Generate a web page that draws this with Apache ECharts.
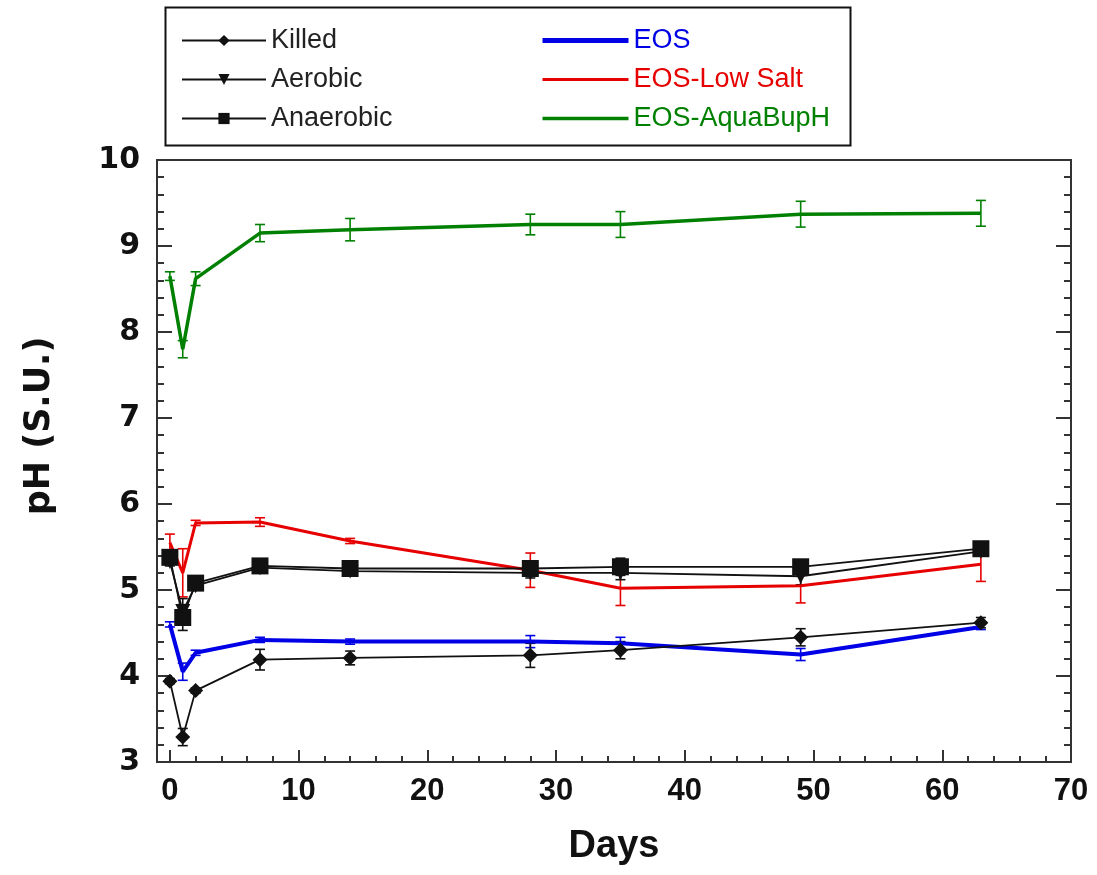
<!DOCTYPE html>
<html>
<head>
<meta charset="utf-8">
<script src="https://cdn.jsdelivr.net/npm/echarts@6/dist/echarts.min.js"></script>
<style>html,body{margin:0;padding:0;background:#fff}#c{width:1097px;height:875px}</style>
</head>
<body>
<div id="c"></div>
<script>
// ---- data ----
var days = [0, 1, 2, 7, 14, 28, 35, 49, 63];
var killed    = [3.94, 3.29, 3.83, 4.19, 4.21, 4.24, 4.30, 4.45, 4.62];
var aerobic   = [5.33, 4.75, 5.05, 5.26, 5.22, 5.20, 5.20, 5.16, 5.45];
var anaerobic = [5.38, 4.68, 5.08, 5.28, 5.25, 5.25, 5.27, 5.27, 5.48];
var eos       = [4.60, 4.05, 4.27, 4.42, 4.40, 4.40, 4.38, 4.25, 4.57];
var eosLowSalt= [5.55, 5.20, 5.78, 5.79, 5.57, 5.23, 5.02, 5.05, 5.30];
var eosAqua   = [8.65, 7.80, 8.62, 9.15, 9.19, 9.25, 9.25, 9.37, 9.38];
var killedErr    = [0.03, 0.10, 0.03, 0.12, 0.08, 0.14, 0.10, 0.10, 0.06];
var aerobicErr   = [0.05, 0.15, 0.05, 0.05, 0.05, 0.06, 0.08, 0.10, 0.05];
var anaerobicErr = [0.05, 0.15, 0.05, 0.05, 0.05, 0.08, 0.10, 0.08, 0.05];
var eosErr       = [0.03, 0.10, 0.03, 0.03, 0.03, 0.07, 0.07, 0.07, 0.03];
var eosLowSaltErr= [0.10, 0.28, 0.03, 0.05, 0.03, 0.20, 0.20, 0.20, 0.20];
var eosAquaErr   = [0.05, 0.10, 0.08, 0.10, 0.13, 0.12, 0.15, 0.15, 0.15];
var xMajorTicks = [0, 10, 20, 30, 40, 50, 60, 70];
var xMinorTicks = [2, 4, 6, 8, 12, 14, 16, 18, 22, 24, 26, 28, 32, 34, 36, 38, 42, 44, 46, 48, 52, 54, 56, 58, 62, 64, 66, 68];

function pairs(ys) { return days.map(function (d, i) { return [d, ys[i]]; }); }
function errData(ys, es) { return days.map(function (d, i) { return [d, ys[i] - es[i], ys[i] + es[i]]; }); }
function errSeries(ys, es, color) {
  return {
    type: 'custom',
    data: errData(ys, es),
    silent: true,
    z: 1,
    renderItem: function (params, api) {
      var lo = api.coord([api.value(0), api.value(1)]);
      var hi = api.coord([api.value(0), api.value(2)]);
      var w = 5;
      var st = { stroke: color, lineWidth: 1.6 };
      return {
        type: 'group',
        children: [
          { type: 'line', shape: { x1: lo[0], y1: lo[1], x2: hi[0], y2: hi[1] }, style: st },
          { type: 'line', shape: { x1: lo[0] - w, y1: lo[1], x2: lo[0] + w, y2: lo[1] }, style: st },
          { type: 'line', shape: { x1: hi[0] - w, y1: hi[1], x2: hi[0] + w, y2: hi[1] }, style: st }
        ]
      };
    }
  };
}

var BLUE = '#0000e6', RED = '#e60000', GREEN = '#008000', BLACK = '#111';
var axisCol = '#333';
var sansBold = "'Liberation Sans', Arial, sans-serif";

var chart = echarts.init(document.getElementById('c'), null, { renderer: 'canvas' });
chart.setOption({
  animation: false,
  backgroundColor: '#fff',
  grid: { left: 157, right: 26, top: 160, bottom: 113, show: true, borderColor: axisCol, borderWidth: 2 },
  legend: [
    {
      orient: 'vertical', left: 176, top: 22, itemWidth: 84, itemHeight: 14, itemGap: 12,
      textStyle: { fontSize: 27, fontFamily: "'Liberation Sans', Arial, sans-serif", color: '#222' },
      data: ['Killed', 'Aerobic', 'Anaerobic']
    },
    {
      orient: 'vertical', left: 535, top: 22, itemWidth: 86, itemHeight: 14, itemGap: 12,
      textStyle: { fontSize: 27, fontFamily: "'Liberation Sans', Arial, sans-serif" },
      data: [
        { name: 'EOS', textStyle: { color: BLUE }, itemStyle: { opacity: 0 }, lineStyle: { width: 5, color: BLUE } },
        { name: 'EOS-Low Salt', textStyle: { color: RED }, itemStyle: { opacity: 0 }, lineStyle: { width: 3, color: RED } },
        { name: 'EOS-AquaBupH', textStyle: { color: GREEN }, itemStyle: { opacity: 0 }, lineStyle: { width: 3.5, color: GREEN } }
      ]
    }
  ],
  graphic: [
    { type: 'rect', left: 163, top: 5, shape: { width: 685, height: 138 }, style: { fill: 'none', stroke: '#111', lineWidth: 2 }, silent: true }
  ],
  xAxis: [
    {
      type: 'value', min: -1, max: 70, position: 'bottom',
      name: 'Days', nameLocation: 'middle', nameGap: 66,
      nameTextStyle: { fontSize: 38, fontWeight: 'bold', fontFamily: sansBold, color: '#111' },
      axisLine: { show: true, onZero: false, lineStyle: { color: axisCol, width: 2 } },
      axisTick: { show: true, inside: true, length: 12, customValues: xMajorTicks, lineStyle: { color: axisCol, width: 2 } },
      axisLabel: { customValues: xMajorTicks, margin: 14, fontSize: 31, fontWeight: 'bold', fontFamily: sansBold, color: '#111' },
      splitLine: { show: false }
    },
    {
      type: 'value', min: -1, max: 70, position: 'bottom',
      axisLine: { show: false, onZero: false },
      axisTick: { show: true, inside: true, length: 6, customValues: xMinorTicks, lineStyle: { color: axisCol, width: 2 } },
      axisLabel: { show: false },
      splitLine: { show: false }
    }
  ],
  yAxis: [
    {
      type: 'value', min: 3, max: 10, interval: 1, position: 'left',
      name: 'pH (S.U.)', nameLocation: 'middle', nameGap: 100, nameRotate: 90,
      nameTextStyle: { fontSize: 35, fontWeight: 'bold', fontFamily: 'DejaVu Sans, sans-serif', color: '#111', padding: [0, 0, 0, 70] },
      axisLine: { show: true, onZero: false, lineStyle: { color: axisCol, width: 2 } },
      axisTick: { show: true, inside: true, length: 15, lineStyle: { color: axisCol, width: 2 } },
      minorTick: { show: true, splitNumber: 5, length: 7, lineStyle: { color: axisCol, width: 2 } },
      axisLabel: { margin: 17, fontSize: 30, fontWeight: 'bold', fontFamily: 'DejaVu Sans, sans-serif', color: '#111' },
      splitLine: { show: false }
    },
    {
      type: 'value', min: 3, max: 10, interval: 1, position: 'right',
      axisLine: { show: true, onZero: false, lineStyle: { color: axisCol, width: 2 } },
      axisTick: { show: true, inside: true, length: 15, lineStyle: { color: axisCol, width: 2 } },
      minorTick: { show: true, splitNumber: 5, length: 7, lineStyle: { color: axisCol, width: 2 } },
      axisLabel: { show: false },
      splitLine: { show: false }
    }
  ],
  series: [
    { name: 'EOS-AquaBupH', type: 'line', data: pairs(eosAqua), symbol: 'none', z: 2, lineStyle: { color: GREEN, width: 3.5 }, itemStyle: { color: GREEN } },
    { name: 'EOS-Low Salt', type: 'line', data: pairs(eosLowSalt), symbol: 'none', z: 2, lineStyle: { color: RED, width: 3 }, itemStyle: { color: RED } },
    { name: 'EOS', type: 'line', data: pairs(eos), symbol: 'none', z: 2, lineStyle: { color: BLUE, width: 4 }, itemStyle: { color: BLUE } },
    errSeries(eosAqua, eosAquaErr, GREEN),
    errSeries(eosLowSalt, eosLowSaltErr, RED),
    errSeries(eos, eosErr, BLUE),
    errSeries(killed, killedErr, BLACK),
    errSeries(aerobic, aerobicErr, BLACK),
    errSeries(anaerobic, anaerobicErr, BLACK),
    { name: 'Killed', type: 'line', data: pairs(killed), symbol: 'diamond', symbolSize: 15, z: 3, lineStyle: { color: BLACK, width: 1.8 }, itemStyle: { color: BLACK } },
    { name: 'Aerobic', type: 'line', data: pairs(aerobic), symbol: 'triangle', symbolRotate: 180, symbolSize: 15, z: 3, lineStyle: { color: BLACK, width: 1.8 }, itemStyle: { color: BLACK } },
    { name: 'Anaerobic', type: 'line', data: pairs(anaerobic), symbol: 'rect', symbolSize: 17, z: 3, lineStyle: { color: BLACK, width: 1.8 }, itemStyle: { color: BLACK } }
  ]
});
</script>
</body>
</html>
